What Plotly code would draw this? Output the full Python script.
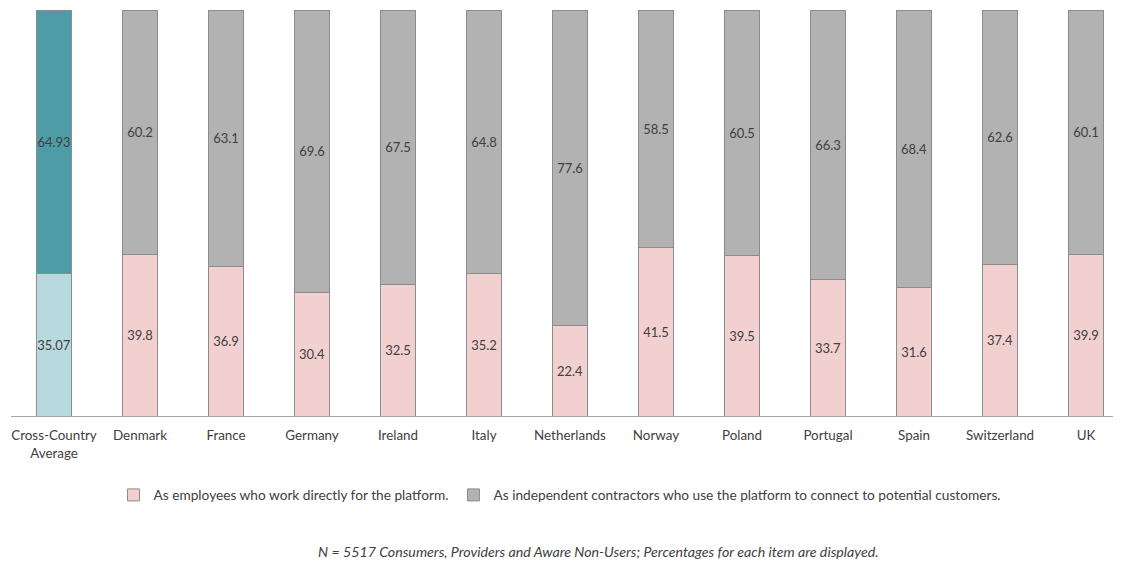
import plotly.graph_objects as go

categories = ["Cross-Country<br>Average", "Denmark", "France", "Germany", "Ireland", "Italy",
              "Netherlands", "Norway", "Poland", "Portugal", "Spain", "Switzerland", "UK"]
employees = [35.07, 39.8, 36.9, 30.4, 32.5, 35.2, 22.4, 41.5, 39.5, 33.7, 31.6, 37.4, 39.9]
contractors = [64.93, 60.2, 63.1, 69.6, 67.5, 64.8, 77.6, 58.5, 60.5, 66.3, 68.4, 62.6, 60.1]
series_names = ["As employees who work directly for the platform.",
                "As independent contractors who use the platform to connect to potential customers."]
note = "N = 5517 Consumers, Providers and Aware Non-Users; Percentages for each item are displayed."

FONT = "Lato, 'Open Sans', sans-serif"
TXT = "#404040"
line = dict(color="#8C8C8C", width=1)

common = dict(textposition="inside", insidetextanchor="middle", textangle=0,
              textfont=dict(size=13, color=TXT, family=FONT), width=0.4,
              constraintext="none", cliponaxis=False)

fig = go.Figure()
# Cross-country average (distinct colours)
fig.add_bar(x=categories[:1], y=employees[:1], text=[f"{v:.2f}" for v in employees[:1]],
            marker=dict(color="#B7DADF", line=line), showlegend=False, **common)
fig.add_bar(x=categories[:1], y=contractors[:1], text=[f"{v:.2f}" for v in contractors[:1]],
            marker=dict(color="#4E9CA7", line=line), showlegend=False, **common)
# Countries
fig.add_bar(x=categories[1:], y=employees[1:], text=[f"{v:.1f}" for v in employees[1:]],
            marker=dict(color="#F2D0D0", line=line), name=series_names[0], **common)
fig.add_bar(x=categories[1:], y=contractors[1:], text=[f"{v:.1f}" for v in contractors[1:]],
            marker=dict(color="#B2B2B2", line=line), name=series_names[1], **common)

PLOT_H = 406
fig.update_layout(
    barmode="stack",
    width=1113, height=555,
    margin=dict(l=3, r=0, t=2, b=147),
    plot_bgcolor="white", paper_bgcolor="white",
    font=dict(family=FONT, size=13, color=TXT),
    xaxis=dict(type="category", range=[-0.5, 12.407], showline=True, linecolor="#A6A6A6",
               linewidth=1, ticks="", tickfont=dict(size=13.4, color=TXT), showgrid=False,
               ticklabelstandoff=7),
    yaxis=dict(range=[0, 100], visible=False),
    legend=dict(orientation="h", x=0.4946, xanchor="center", y=-79 / PLOT_H, yanchor="middle",
                font=dict(size=13.7, color=TXT), traceorder="normal", itemwidth=30),
    showlegend=True,
    annotations=[dict(text=f"<i>{note}</i>", x=0.529, xref="paper", y=-135 / PLOT_H, yref="paper",
                      xanchor="center", yanchor="middle", showarrow=False,
                      font=dict(size=14.2, color=TXT))],
)

fig.write_html("out.html")
